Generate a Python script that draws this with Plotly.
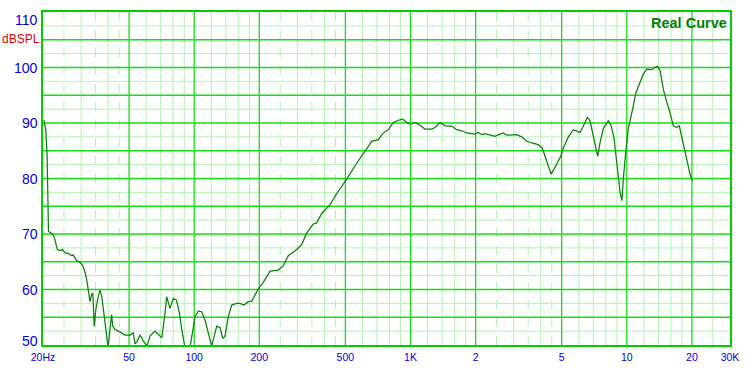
import math
import plotly.graph_objects as go

# ---- data (frequency in Hz, level in dB SPL) ----
freq_hz = [20.2, 20.6, 20.9, 21.1, 21.2, 21.7, 22.3, 22.7, 23.3, 24.0, 24.6, 25.3, 26.2, 27.1, 27.6,
           28.6, 29.7, 30.5, 31.3, 31.8, 32.4, 33.0, 33.6, 34.0, 34.5, 35.1, 36.0, 36.7, 37.4, 38.3,
           39.1, 40.0, 40.8, 41.5, 42.0, 43.0, 44.6, 46.2, 47.9, 50.5, 52.3, 53.3, 54.6, 56.2, 58.2,
           60.5, 62.5, 65.9, 68.2, 70.8, 73.3, 74.6, 77.3, 80.1, 82.8, 85.5, 87.6, 90.7, 95.6, 99.1,
           100.9, 104.5, 108.3, 112.2, 120.5, 127.1, 131.7, 135.5, 138.8, 143.8, 149.1, 157.3, 162.9,
           170.0, 177.9, 184.5, 191.0, 197.9, 208.7, 224.2, 244.8, 258.2, 272.4, 297.8, 314.1, 331.3,
           355.3, 368.4, 388.6, 424.6, 456.0, 507.2, 554.0, 605.2, 661.7, 709.8, 748.8, 789.8, 832.8,
           878.4, 920.6, 960.6, 1002, 1049, 1087, 1167, 1253, 1298, 1369, 1444, 1551, 1635, 1725,
           1819, 1919, 1987, 2058, 2134, 2210, 2331, 2458, 2593, 2686, 2785, 2937, 3097, 3267, 3446,
           3634, 3898, 4067, 4186, 4337, 4464, 4658, 4948, 5087, 5366, 5658, 5866, 6076, 6294, 6568,
           6760, 7002, 7338, 7519, 7788, 8214, 8454, 8729, 9039, 9303, 9504, 9636, 9917, 10163,
           10650, 11032, 11508, 11921, 12361, 13036, 13502, 13836, 14240, 14750, 15294, 15724,
           16408, 17012, 17490, 18132, 18920, 19598, 20083]
spl_db = [90.5, 88.8, 84.0, 75.0, 70.5, 70.2, 69.9, 69.0, 67.2, 67.0, 67.2, 66.6, 66.5, 66.1, 66.2,
          65.2, 64.9, 64.3, 63.1, 61.9, 59.9, 57.8, 59.2, 59.3, 53.4, 56.4, 58.7, 59.9, 58.7, 55.7,
          52.8, 49.5, 52.8, 55.5, 53.4, 52.8, 52.5, 52.1, 51.8, 51.8, 52.2, 50.2, 50.7, 51.8, 50.7,
          49.8, 51.6, 52.5, 51.9, 51.3, 55.7, 58.7, 56.6, 58.4, 58.1, 55.7, 52.8, 49.5, 49.5, 52.8,
          55.1, 56.1, 56.0, 54.5, 49.8, 53.4, 53.1, 51.2, 51.6, 55.1, 57.2, 57.5, 57.5,
          57.2, 57.8, 57.9, 59.0, 60.1, 61.3, 63.3, 63.5, 64.3, 66.1, 67.2, 68.1, 70.2,
          71.8, 72.0, 73.7, 75.3, 77.3, 79.9, 82.3, 84.6, 86.7, 87.0, 88.2, 88.8, 90.1,
          90.5, 90.7, 90.1, 89.8, 90.1, 89.8, 88.9, 88.9, 89.2, 90.1, 89.5, 89.4, 88.8, 88.6,
          88.2, 88.0, 88.0, 88.3, 87.9, 88.1, 87.8, 87.6, 88.0, 88.2, 87.8, 87.9, 87.9, 87.5, 86.7,
          86.4, 86.1, 85.5, 84.0, 82.0, 80.8, 82.0, 84.0, 85.5, 87.5, 88.8, 88.5, 88.3, 89.4, 91.0,
          90.4, 87.6, 84.0, 86.4, 89.0, 90.4, 89.6, 87.3, 81.7, 77.6, 76.0, 79.9, 85.2, 89.0,
          92.6, 95.5, 97.3, 98.8, 99.7, 99.6, 100.0, 100.2, 99.5, 96.1, 93.8, 92.3,
          89.5, 89.2, 89.5, 86.7, 83.5, 80.8, 79.6]

x_tick_vals = [20, 50, 100, 200, 500, 1000, 2000, 5000, 10000, 20000, 30000]
x_tick_text = ["20Hz", "50", "100", "200", "500", "1K", "2", "5", "10", "20", "30K"]
y_tick_vals = [50, 60, 70, 80, 90, 100, 110]
y_tick_text = ["50", "60", "70", "80", "90", "100", "110"]
y_unit_label = "dBSPL"
y_unit_pos = 105
title_text = "Real Curve"

x_grid_major = [50, 100, 200, 500, 1000, 2000, 5000, 10000, 20000]
x_grid_minor = [30, 40, 60, 70, 80, 90, 120, 140, 160, 180, 300, 400, 600, 700, 800, 900,
                1200, 1400, 1600, 1800, 3000, 4000, 6000, 7000, 8000, 9000,
                12000, 14000, 16000, 18000, 25000]
x_grid_dashed = [25, 35, 45, 250, 350, 450, 2500, 3500, 4500]
y_grid_major = [55, 60, 65, 70, 75, 80, 85, 90, 95, 100, 105]
y_grid_minor = [52.5, 57.5, 62.5, 67.5, 72.5, 77.5, 82.5, 87.5, 92.5, 97.5, 102.5, 107.5]

X_MIN, X_MAX = 20, 30000
Y_MIN, Y_MAX = 50, 110

MAJOR_C = "#14e014"
MINOR_C = "#b4f2b4"
CURVE_C = "#0a820a"
BLUE = "#0000e6"
FONT = "Liberation Sans, Arial, sans-serif"


def vlines(xs):
    px, py = [], []
    for v in xs:
        px += [v, v, None]
        py += [Y_MIN, Y_MAX, None]
    return px, py


def hlines(ys):
    px, py = [], []
    for v in ys:
        px += [X_MIN, X_MAX, None]
        py += [v, v, None]
    return px, py


fig = go.Figure()

for xs, col, dash in [(x_grid_dashed, MINOR_C, "dash"), (x_grid_minor, MINOR_C, "solid")]:
    gx, gy = vlines(xs)
    fig.add_trace(go.Scatter(x=gx, y=gy, mode="lines", line=dict(color=col, width=1, dash=dash),
                             hoverinfo="skip", showlegend=False))
gx, gy = hlines(y_grid_minor)
fig.add_trace(go.Scatter(x=gx, y=gy, mode="lines", line=dict(color=MINOR_C, width=1),
                         hoverinfo="skip", showlegend=False))
gx, gy = vlines(x_grid_major)
fig.add_trace(go.Scatter(x=gx, y=gy, mode="lines", line=dict(color=MAJOR_C, width=1.3),
                         hoverinfo="skip", showlegend=False))
gx, gy = hlines(y_grid_major)
fig.add_trace(go.Scatter(x=gx, y=gy, mode="lines", line=dict(color=MAJOR_C, width=1.3),
                         hoverinfo="skip", showlegend=False))

fig.add_trace(go.Scatter(x=freq_hz, y=spl_db, mode="lines",
                         line=dict(color=CURVE_C, width=1.25), showlegend=False))

annotations = []
for v, t in zip(y_tick_vals, y_tick_text):
    shift = 0
    if v == Y_MAX:
        shift = -8
    elif v == Y_MIN:
        shift = 4
    annotations.append(dict(x=0, xref="paper", xanchor="right", xshift=-3,
                            y=v, yref="y", yanchor="middle", yshift=shift,
                            text=t, showarrow=False,
                            font=dict(family=FONT, size=14, color=BLUE)))
annotations.append(dict(x=0, xref="paper", xanchor="right", xshift=-1,
                        y=y_unit_pos, yref="y", yanchor="middle", yshift=1,
                        text=y_unit_label, showarrow=False,
                        font=dict(family=FONT, size=12, color="#dd0000")))
annotations.append(dict(x=1, xref="paper", xanchor="right", xshift=-1,
                        y=1, yref="paper", yanchor="top", yshift=-1,
                        text="<b>" + title_text + "</b>", showarrow=False,
                        font=dict(family=FONT, size=14.5, color="#008000")))

fig.update_layout(
    width=751, height=373,
    margin=dict(l=43, r=21, t=10, b=24),
    paper_bgcolor="white", plot_bgcolor="white",
    annotations=annotations,
    xaxis=dict(type="log", range=[math.log10(X_MIN), math.log10(X_MAX)],
               showgrid=False, zeroline=False,
               tickvals=x_tick_vals, ticktext=x_tick_text, ticks="",
               ticklabelstandoff=2,
               tickfont=dict(family=FONT, size=10.5, color=BLUE),
               showline=True, mirror=True, linecolor="#00d000", linewidth=1.5),
    yaxis=dict(range=[Y_MIN, Y_MAX], showgrid=False, zeroline=False, showticklabels=False,
               ticks="", showline=True, mirror=True, linecolor="#00d000", linewidth=1.5),
)

fig.write_html("out.html")
